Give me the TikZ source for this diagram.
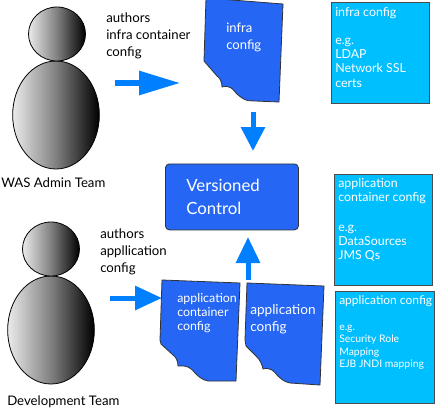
\documentclass[tikz,border=0pt]{standalone}
\usepackage{fontspec}
\setmainfont{Lato}
\usetikzlibrary{arrows.meta}
\usetikzlibrary{shapes.geometric}
\definecolor{docblue}{RGB}{37,102,245}
\definecolor{boxcyan}{RGB}{0,191,255}
\definecolor{arrowblue}{RGB}{0,128,255}
\tikzset{
    head/.style={ellipse,draw=black,line width=0.6pt,inner sep=0pt,minimum width=42.75pt,minimum height=40.5pt,left color=white!92!black,right color=black,middle color=black!50},
    torso/.style={ellipse,draw=black,line width=0.6pt,inner sep=0pt,minimum width=65pt,minimum height=81pt,left color=white!92!black,right color=black,middle color=black!50},
    docshape/.style={fill=docblue,draw=black!80,line width=0.6pt},
    cfgbox/.style={anchor=north west,fill=boxcyan,draw=black!70,line width=0.75pt,inner sep=0pt},
    blockarrow/.style={draw=arrowblue,line width=3.75pt,-{Triangle[length=#1,width=17.5pt]}},
    darktext/.style={anchor=north west,inner sep=0pt,align=left,text=black,font=\fontsize{9.9}{12.75}\selectfont},
    whitetext/.style={anchor=north west,inner sep=0pt,align=left,text=white,font=\fontsize{9.3}{10.6}\selectfont},
}
\begin{document}
\begin{tikzpicture}[x=0.75pt,y=0.75pt,yscale=-1,xscale=1]
\useasboundingbox (0,0) rectangle (435,410);

%Admin person
\node [torso] (adminBody) at (56,115) {};
\node [head] (adminHead) at (57,34) {};
%Development person
\node [torso] (devBody) at (51,330) {};
\node [head] (devHead) at (51,249) {};

%Infra document
\draw [docshape] (206,-2) -- (283,4) -- (279,102) -- (248,100.7) .. controls (242,99) and (238,95) .. (236,93) .. controls (233,89) and (230,85) .. (222,87) .. controls (222,82) and (220,78) .. (217,76) -- (204,61) -- cycle;
%Application container document
\draw [docshape] (162,280) -- (240,283) -- (236,381) -- (208,381) .. controls (202,380) and (198,376) .. (195,373) .. controls (192,369) and (188,365) .. (178,366) .. controls (178,361) and (176,357) .. (173,355) -- (161,344) -- (160,340) -- cycle;
%Application document
\draw [docshape] (247,283) -- (324,286) -- (320,385) -- (290,383) .. controls (284,382) and (280,378) .. (277,375) .. controls (274,371) and (270,367) .. (263,369) .. controls (262,364) and (260,360) .. (257,357) -- (246,346) -- (245,340) -- cycle;

%Versioned control
\node [anchor=north west,fill=docblue,draw=black!80,line width=0.6pt,rounded corners=3pt,inner sep=0pt,minimum width=99.75pt,minimum height=49.5pt] (versioned) at (165,163.5) {};

%Config boxes
\node [cfgbox,minimum width=73.5pt,minimum height=75.75pt] (infraBox) at (331,2) {};
\node [cfgbox,minimum width=73.5pt,minimum height=83.25pt] (containerBox) at (334,174) {};
\node [cfgbox,minimum width=74.25pt,minimum height=84pt] (appBox) at (335,291) {};

%Arrow ends
\coordinate (adminFrom) at (115,83);
\coordinate (adminTo) at (180,83);
\coordinate (infraFrom) at (253,112);
\coordinate (infraTo) at (253,151);
\coordinate (appFrom) at (248,280);
\coordinate (appTo) at (248,237);
\coordinate (devFrom) at (110,298);
\coordinate (devTo) at (162,298);

%Block arrows
\draw [blockarrow=30.75pt] (adminFrom) -- (adminTo);
\draw [blockarrow=18pt] (infraFrom) -- (infraTo);
\draw [blockarrow=19.5pt] (appFrom) -- (appTo);
\draw [blockarrow=20.25pt] (devFrom) -- (devTo);

% Text Node
\node [darktext] (adminAuthors) at (106,13) {authors\\infra container\\config};
% Text Node
\node [darktext] (adminLabel) at (1,178) {WAS Admin Team};
% Text Node
\node [darktext] (devAuthors) at (100,229) {authors\\appllication\\config};
% Text Node
\node [darktext] (devLabel) at (7,396) {Development Team};
% Text Node
\node [whitetext,font=\fontsize{9.8}{12.75}\selectfont] (infraDocText) at (226,23) {infra\\config};
% Text Node
\node [whitetext,font=\fontsize{12.6}{16.8}\selectfont] (versionedText) at (186,179) {Versioned\\Control};
% Text Node
\node [whitetext] (containerDocText) at (177,293) {application\\container\\config};
% Text Node
\node [whitetext,font=\fontsize{10.2}{12.75}\selectfont] (appDocText) at (250,304) {application\\config};
% Text Node
\node [whitetext] at (335,7) {infra config\\[10.6pt]e.g.\\LDAP\\Network SSL\\certs};
% Text Node
\node [whitetext] at (338,178) {application\\container config\\[12pt]e.g.\\DataSources\\JMS Qs};
% Text Node
\node [whitetext,font=\fontsize{9}{10.6}\selectfont] at (339,295) {application config};
% Text Node
\node [whitetext,font=\fontsize{7.8}{9.2}\selectfont] at (339,325) {e.g.\\Security Role\\Mapping\\EJB JNDI mapping};

\end{tikzpicture}
\end{document}
